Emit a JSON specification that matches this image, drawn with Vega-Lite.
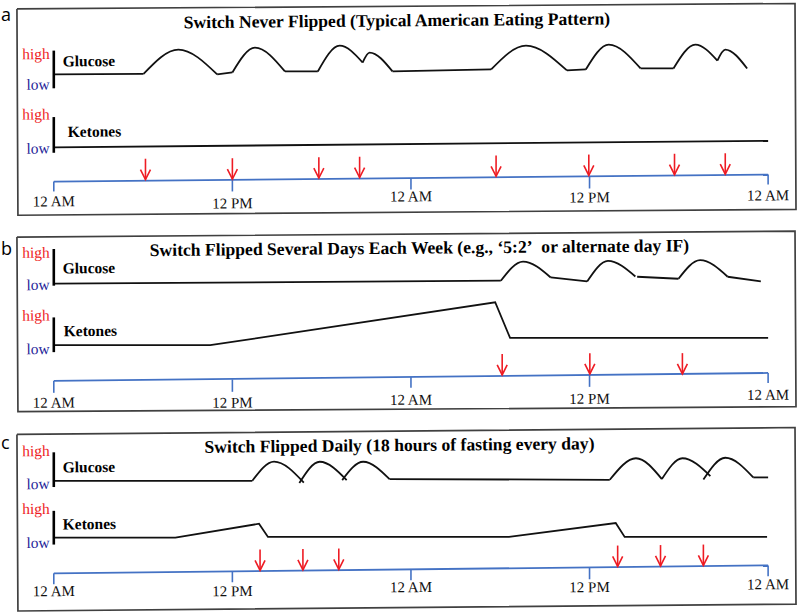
{
  "$schema": "https://vega.github.io/schema/vega-lite/v6.json",
  "width": 800,
  "height": 615,
  "autosize": {"type": "fit", "contains": "padding"},
  "padding": 0,
  "background": "white",
  "config": {"view": {"stroke": null}},
  "datasets": {
    "frames": [
      {"panel": "a", "i": 0, "h": -2.477, "y": 6}, {"panel": "a", "i": 1, "h": 49.807, "y": 0.5}, {"panel": "a", "i": 2, "h": 49.874, "y": 208}, {"panel": "a", "i": 3, "h": -2.41, "y": 214}, {"panel": "a", "i": 4, "h": -2.477, "y": 6},
      {"panel": "b", "i": 0, "h": -2.477, "y": 236}, {"panel": "b", "i": 1, "h": 49.807, "y": 230}, {"panel": "b", "i": 2, "h": 49.874, "y": 407}, {"panel": "b", "i": 3, "h": -2.41, "y": 412}, {"panel": "b", "i": 4, "h": -2.477, "y": 236},
      {"panel": "c", "i": 0, "h": -2.477, "y": 435}, {"panel": "c", "i": 1, "h": 49.807, "y": 428}, {"panel": "c", "i": 2, "h": 49.874, "y": 606}, {"panel": "c", "i": 3, "h": -2.41, "y": 613}, {"panel": "c", "i": 4, "h": -2.477, "y": 435}
    ],
    "timeline": [
      {"panel": "a", "h": 0, "y": 180}, {"panel": "a", "h": 48, "y": 173},
      {"panel": "b", "h": 0, "y": 381}, {"panel": "b", "h": 48, "y": 373},
      {"panel": "c", "h": 0, "y": 575}, {"panel": "c", "h": 48, "y": 567}
    ],
    "ticks": [
      {"panel": "a", "h": 0, "y": 180, "y2": 190}, {"panel": "a", "h": 12, "y": 178.3, "y2": 190}, {"panel": "a", "h": 24, "y": 176.5, "y2": 188}, {"panel": "a", "h": 36, "y": 174.8, "y2": 187}, {"panel": "a", "h": 48, "y": 173, "y2": 183},
      {"panel": "b", "h": 0, "y": 381, "y2": 393}, {"panel": "b", "h": 12, "y": 379.5, "y2": 392}, {"panel": "b", "h": 24, "y": 377, "y2": 388}, {"panel": "b", "h": 36, "y": 375, "y2": 387}, {"panel": "b", "h": 48, "y": 373, "y2": 383},
      {"panel": "c", "h": 0, "y": 575, "y2": 586}, {"panel": "c", "h": 12, "y": 573, "y2": 584}, {"panel": "c", "h": 24, "y": 571.5, "y2": 582}, {"panel": "c", "h": 36, "y": 569.5, "y2": 581}, {"panel": "c", "h": 48, "y": 567, "y2": 578}
    ],
    "ticklabels": [
      {"h": 0, "y": 205, "label": "12 AM"}, {"h": 12, "y": 207, "label": "12 PM"}, {"h": 24, "y": 200, "label": "12 AM"}, {"h": 36, "y": 201, "label": "12 PM"}, {"h": 48, "y": 199, "label": "12 AM"},
      {"h": 0, "y": 408, "label": "12 AM"}, {"h": 12, "y": 408, "label": "12 PM"}, {"h": 24, "y": 405, "label": "12 AM"}, {"h": 36, "y": 404, "label": "12 PM"}, {"h": 48, "y": 400, "label": "12 AM"},
      {"h": 0, "y": 598, "label": "12 AM"}, {"h": 12, "y": 598, "label": "12 PM"}, {"h": 24, "y": 594, "label": "12 AM"}, {"h": 36, "y": 594, "label": "12 PM"}, {"h": 48, "y": 591, "label": "12 AM"}
    ],
    "glucose": [
      {"seg": "a1", "h": 0, "y": 72}, {"seg": "a1", "h": 6.03, "y": 71.5},
      {"seg": "a2", "h": 6.03, "y": 71.5}, {"seg": "a2", "h": 8.37, "y": 47}, {"seg": "a2", "h": 10.98, "y": 72},
      {"seg": "a3", "h": 10.98, "y": 72}, {"seg": "a3", "h": 12, "y": 70},
      {"seg": "a4", "h": 12, "y": 70}, {"seg": "a4", "h": 13.52, "y": 45}, {"seg": "a4", "h": 15.53, "y": 69},
      {"seg": "a5", "h": 15.53, "y": 69}, {"seg": "a5", "h": 17.74, "y": 69},
      {"seg": "a6", "h": 17.74, "y": 69}, {"seg": "a6", "h": 19.21, "y": 43}, {"seg": "a6", "h": 20.75, "y": 60},
      {"seg": "a7", "h": 20.75, "y": 60}, {"seg": "a7", "h": 21.22, "y": 50}, {"seg": "a7", "h": 22.76, "y": 69},
      {"seg": "a8", "h": 22.76, "y": 69}, {"seg": "a8", "h": 29.39, "y": 67},
      {"seg": "a9", "h": 29.39, "y": 67}, {"seg": "a9", "h": 31.73, "y": 43}, {"seg": "a9", "h": 34.48, "y": 68},
      {"seg": "a10", "h": 34.48, "y": 68}, {"seg": "a10", "h": 35.75, "y": 67},
      {"seg": "a11", "h": 35.75, "y": 67}, {"seg": "a11", "h": 37.29, "y": 42}, {"seg": "a11", "h": 39.43, "y": 66},
      {"seg": "a12", "h": 39.43, "y": 66}, {"seg": "a12", "h": 41.64, "y": 66},
      {"seg": "a13", "h": 41.64, "y": 66}, {"seg": "a13", "h": 43.11, "y": 42}, {"seg": "a13", "h": 44.59, "y": 58},
      {"seg": "a14", "h": 44.59, "y": 58}, {"seg": "a14", "h": 45.12, "y": 47}, {"seg": "a14", "h": 46.59, "y": 66},
      {"seg": "b1", "h": 0, "y": 283}, {"seg": "b1", "h": 30.04, "y": 280},
      {"seg": "b2", "h": 30.04, "y": 280}, {"seg": "b2", "h": 31.53, "y": 260.7}, {"seg": "b2", "h": 33.39, "y": 276.7},
      {"seg": "b3", "h": 33.39, "y": 276.7}, {"seg": "b3", "h": 35.84, "y": 280.7},
      {"seg": "b4", "h": 35.84, "y": 280.7}, {"seg": "b4", "h": 37.24, "y": 260}, {"seg": "b4", "h": 39.08, "y": 275.7},
      {"seg": "b5", "h": 39.2, "y": 276}, {"seg": "b5", "h": 41.98, "y": 278},
      {"seg": "b6", "h": 41.98, "y": 278}, {"seg": "b6", "h": 43.43, "y": 259.3}, {"seg": "b6", "h": 45.28, "y": 276},
      {"seg": "b7", "h": 45.28, "y": 276}, {"seg": "b7", "h": 47.51, "y": 280.7},
      {"seg": "c1", "h": 0, "y": 481.7}, {"seg": "c1", "h": 13.34, "y": 481.7},
      {"seg": "c2", "h": 13.34, "y": 481.7}, {"seg": "c2", "h": 14.8, "y": 462.3}, {"seg": "c2", "h": 16.8, "y": 483.5},
      {"seg": "c3", "h": 16.5, "y": 484}, {"seg": "c3", "h": 17.87, "y": 462.5}, {"seg": "c3", "h": 19.68, "y": 481},
      {"seg": "c4", "h": 19.38, "y": 481}, {"seg": "c4", "h": 20.79, "y": 462.5}, {"seg": "c4", "h": 22.56, "y": 480},
      {"seg": "c5", "h": 22.56, "y": 480}, {"seg": "c5", "h": 37.36, "y": 480.7},
      {"seg": "c6", "h": 37.36, "y": 480.7}, {"seg": "c6", "h": 39.12, "y": 459}, {"seg": "c6", "h": 40.86, "y": 480},
      {"seg": "c7", "h": 40.86, "y": 480}, {"seg": "c7", "h": 42.24, "y": 459}, {"seg": "c7", "h": 44.12, "y": 477},
      {"seg": "c8", "h": 43.65, "y": 480.5}, {"seg": "c8", "h": 45.12, "y": 458.5}, {"seg": "c8", "h": 47.0, "y": 478.3},
      {"seg": "c9", "h": 47.0, "y": 478.3}, {"seg": "c9", "h": 48, "y": 478.3}
    ],
    "ketones": [
      {"panel": "a", "h": 0, "y": 145.5}, {"panel": "a", "h": 48, "y": 139},
      {"panel": "b", "h": 0, "y": 345}, {"panel": "b", "h": 10.51, "y": 345}, {"panel": "b", "h": 29.66, "y": 301.7}, {"panel": "b", "h": 30.66, "y": 337.7}, {"panel": "b", "h": 48, "y": 337.7},
      {"panel": "c", "h": 0, "y": 539}, {"panel": "c", "h": 8.17, "y": 539}, {"panel": "c", "h": 13.79, "y": 525}, {"panel": "c", "h": 14.39, "y": 538.3}, {"panel": "c", "h": 30.59, "y": 538.3}, {"panel": "c", "h": 37.76, "y": 524.3}, {"panel": "c", "h": 38.36, "y": 538.3}, {"panel": "c", "h": 47.93, "y": 538.3}
    ],
    "bars": [
      {"h": 0, "y": 48, "y2": 86}, {"h": 0, "y": 115, "y2": 151},
      {"h": 0, "y": 248, "y2": 285}, {"h": 0, "y": 317, "y2": 352},
      {"h": 0, "y": 453, "y2": 488}, {"h": 0, "y": 512, "y2": 546}
    ],
    "meals": [
      {"panel": "a", "h": 6.16, "y": 178, "y2": 157}, {"panel": "a", "h": 12, "y": 177.5, "y2": 156.5}, {"panel": "a", "h": 17.81, "y": 176.5, "y2": 155.5}, {"panel": "a", "h": 20.55, "y": 176, "y2": 155},
      {"panel": "a", "h": 29.72, "y": 174.7, "y2": 153.7}, {"panel": "a", "h": 35.95, "y": 173.8, "y2": 152.8}, {"panel": "a", "h": 41.71, "y": 173, "y2": 152}, {"panel": "a", "h": 45.12, "y": 172.5, "y2": 151.5},
      {"panel": "b", "h": 30.13, "y": 375, "y2": 354}, {"panel": "b", "h": 36.02, "y": 374, "y2": 353}, {"panel": "b", "h": 42.24, "y": 374, "y2": 353},
      {"panel": "c", "h": 13.86, "y": 572, "y2": 551}, {"panel": "c", "h": 16.74, "y": 571.5, "y2": 550.5}, {"panel": "c", "h": 19.15, "y": 571, "y2": 550},
      {"panel": "c", "h": 37.89, "y": 568, "y2": 547}, {"panel": "c", "h": 40.77, "y": 567.5, "y2": 546.5}, {"panel": "c", "h": 43.65, "y": 567, "y2": 546}
    ],
    "levels": [
      {"h": -0.268, "y": 56.5, "level": "high"}, {"h": -0.268, "y": 87.3, "level": "low"}, {"h": -0.268, "y": 117.3, "level": "high"}, {"h": -0.268, "y": 151.7, "level": "low"},
      {"h": -0.268, "y": 256.7, "level": "high"}, {"h": -0.268, "y": 289.3, "level": "low"}, {"h": -0.268, "y": 320, "level": "high"}, {"h": -0.268, "y": 354, "level": "low"},
      {"h": -0.268, "y": 456.7, "level": "high"}, {"h": -0.268, "y": 490, "level": "low"}, {"h": -0.268, "y": 515, "level": "high"}, {"h": -0.268, "y": 549.3, "level": "low"}
    ],
    "series": [
      {"h": 0.6, "y": 64, "label": "Glucose"}, {"h": 0.94, "y": 135, "label": "Ketones"},
      {"h": 0.6, "y": 272.7, "label": "Glucose"}, {"h": 0.67, "y": 336, "label": "Ketones"},
      {"h": 0.6, "y": 473.3, "label": "Glucose"}, {"h": 0.6, "y": 530.7, "label": "Ketones"}
    ],
    "titles": [
      {"h": 23.06, "y": 23.5, "label": "Switch Never Flipped (Typical American Eating Pattern)"},
      {"h": 24.57, "y": 252.7, "label": "Switch Flipped Several Days Each Week (e.g., ‘5:2’\u00a0 or alternate day IF)"},
      {"h": 23.23, "y": 451.7, "label": "Switch Flipped Daily (18 hours of fasting every day)"}
    ],
    "letters": [
      {"h": -3.55, "y": 18, "label": "a"}, {"h": -3.55, "y": 253.7, "label": "b"}, {"h": -3.55, "y": 450, "label": "c"}
    ]
  },
  "encoding": {
    "x": {"field": "h", "type": "quantitative", "scale": {"domain": [-3.548, 50.008], "nice": false, "zero": false}, "axis": null},
    "y": {"field": "y", "type": "quantitative", "scale": {"domain": [0, 615], "reverse": true, "nice": false, "zero": false}, "axis": null}
  },
  "layer": [
    {"data": {"name": "frames"}, "mark": {"type": "line", "stroke": "#404040", "strokeWidth": 1.7}, "encoding": {"detail": {"field": "panel"}, "order": {"field": "i"}}},
    {"data": {"name": "timeline"}, "mark": {"type": "line", "stroke": "#4472c4", "strokeWidth": 1.8}, "encoding": {"detail": {"field": "panel"}}},
    {"data": {"name": "ticks"}, "mark": {"type": "rule", "stroke": "#4472c4", "strokeWidth": 1.6}, "encoding": {"y2": {"field": "y2"}}},
    {"data": {"name": "glucose"}, "mark": {"type": "line", "interpolate": "monotone", "stroke": "#111111", "strokeWidth": 1.8}, "encoding": {"detail": {"field": "seg"}}},
    {"data": {"name": "ketones"}, "mark": {"type": "line", "stroke": "#111111", "strokeWidth": 1.8}, "encoding": {"detail": {"field": "panel"}}},
    {"data": {"name": "bars"}, "mark": {"type": "rule", "stroke": "#000000", "strokeWidth": 2.6}, "encoding": {"y2": {"field": "y2"}}},
    {"data": {"name": "meals"}, "mark": {"type": "rule", "stroke": "#ee1c24", "strokeWidth": 1.6}, "encoding": {"y2": {"field": "y2"}}},
    {"data": {"name": "meals"}, "mark": {"type": "point", "shape": "M-1,-2L0,0L1,-2", "size": 100, "filled": false, "color": "#ee1c24", "strokeWidth": 1.6, "opacity": 1}},
    {"data": {"name": "levels"}, "mark": {"type": "text", "font": "Liberation Serif", "fontSize": 15.5, "align": "right", "baseline": "alphabetic", "angle": -0.5}, "encoding": {"text": {"field": "level"}, "color": {"field": "level", "type": "nominal", "scale": {"domain": ["high", "low"], "range": ["#ee1c24", "#1f1f99"]}, "legend": null}}},
    {"data": {"name": "series"}, "mark": {"type": "text", "font": "Liberation Serif", "fontSize": 15.5, "fontWeight": "bold", "align": "left", "baseline": "alphabetic", "color": "#000000", "angle": -0.5}, "encoding": {"text": {"field": "label"}}},
    {"data": {"name": "titles"}, "mark": {"type": "text", "font": "Liberation Serif", "fontSize": 17.6, "fontWeight": "bold", "align": "center", "baseline": "alphabetic", "color": "#000000", "angle": -0.5}, "encoding": {"text": {"field": "label"}}},
    {"data": {"name": "ticklabels"}, "mark": {"type": "text", "font": "Liberation Serif", "fontSize": 15, "align": "center", "baseline": "alphabetic", "color": "#111111", "angle": -0.5}, "encoding": {"text": {"field": "label"}}},
    {"data": {"name": "letters"}, "mark": {"type": "text", "font": "Open Sans", "fontSize": 18, "align": "left", "baseline": "alphabetic", "color": "#000000"}, "encoding": {"text": {"field": "label"}}}
  ]
}
